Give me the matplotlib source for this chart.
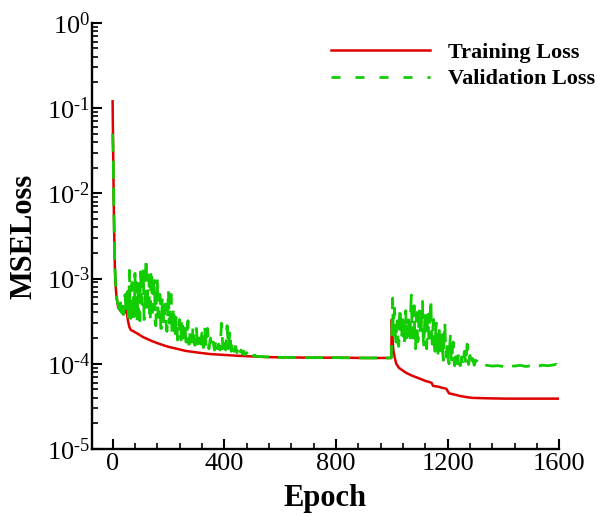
import matplotlib
matplotlib.use('Agg')
import matplotlib.pyplot as plt
import numpy as np
from matplotlib.ticker import LogLocator, MultipleLocator, FuncFormatter, NullFormatter
from matplotlib.lines import Line2D

plt.rcParams['font.family'] = ['Liberation Serif', 'DejaVu Serif']
plt.rcParams['mathtext.fontset'] = 'custom'
plt.rcParams['mathtext.rm'] = 'Liberation Serif'
plt.rcParams['lines.scale_dashes'] = False

# ---------------- data ----------------
train_epochs = [0, 2, 4, 6, 8, 10, 14, 20, 30, 40, 45, 50, 55, 60, 65, 75, 90, 110,
                140, 170, 200, 230, 260, 300, 350, 400, 450, 500, 550, 600, 700, 800,
                900, 998, 1000, 1002, 1005, 1010, 1016, 1025, 1040, 1052, 1075, 1100,
                1120, 1142, 1148, 1165, 1183, 1195, 1205, 1225, 1243, 1270, 1290, 1350,
                1410, 1500, 1600]
train_loss = [1.2e-1, 3.0e-2, 8.0e-3, 3.0e-3, 1.4e-3, 9.0e-4, 6.0e-4, 4.6e-4, 4.1e-4,
              3.8e-4, 4.3e-4, 4.2e-4, 3.2e-4, 2.7e-4, 2.5e-4, 2.4e-4, 2.25e-4, 2.05e-4,
              1.85e-4, 1.7e-4, 1.58e-4, 1.5e-4, 1.42e-4, 1.36e-4, 1.3e-4, 1.27e-4,
              1.24e-4, 1.22e-4, 1.2e-4, 1.19e-4, 1.18e-4, 1.18e-4, 1.17e-4, 1.17e-4,
              3.3e-4, 2.2e-4, 1.5e-4, 1.2e-4, 1.0e-4, 9.0e-5, 8.3e-5, 7.8e-5, 7.2e-5,
              6.7e-5, 6.3e-5, 6.0e-5, 5.5e-5, 5.4e-5, 5.2e-5, 5.1e-5, 4.5e-5, 4.35e-5,
              4.2e-5, 4.05e-5, 3.98e-5, 3.93e-5, 3.9e-5, 3.9e-5, 3.9e-5]

# validation loss, in units of 1e-4
val_epochs_a = [0, 2, 4, 6, 8, 10, 12]
val_loss_a = [500.0, 300.0, 80.0, 30.0, 15.0, 10.0, 7.5]

val_epochs_b1 = list(np.arange(15, 300.1, 2.5))          # 115 values
val_loss_b1 = [6.0, 5.2, 5.0, 4.4, 4.6, 5.8, 4.2, 4.0, 5.5, 3.8,
               3.9, 6.0, 6.5, 4.0, 4.3, 7.0, 5.0, 3.5, 12.5, 4.5,
               3.4, 8.0, 9.0, 3.2, 6.5, 3.6, 11.5, 4.5, 9.0, 3.0,
               8.0, 3.5, 10.0, 3.2, 12.0, 6.0, 5.0, 9.0, 13.0, 3.3,
               3.5, 8.0, 17.0, 4.0, 6.0, 11.0, 10.5, 3.2, 3.3, 12.5,
               12.0, 4.0, 4.5, 9.0, 9.5, 3.0, 2.8, 7.5, 10.0, 3.6,
               3.5, 6.5, 6.5, 2.6, 2.6, 5.5, 6.0, 3.0, 3.0, 5.0,
               5.0, 2.5, 2.4, 4.5, 7.3, 3.0, 3.0, 6.5, 6.5, 2.4,
               2.2, 4.5, 4.0, 2.0, 2.3, 3.5, 3.2, 1.9, 2.0, 3.0,
               3.3, 2.0, 1.9, 3.3, 3.3, 2.0, 2.2, 2.8, 2.6, 1.8,
               1.8, 2.6, 3.2, 1.7, 1.7, 2.4, 2.4, 1.8, 1.9, 2.6,
               2.7, 1.7, 1.65, 2.3, 2.6]
val_epochs_b2 = list(range(305, 525, 5))                 # 44 values
val_loss_b2 = [1.6, 2.0, 1.7, 2.3, 1.55, 2.7, 1.6, 2.6, 1.5, 2.0,
               1.55, 1.8, 1.45, 1.9, 1.5, 1.7, 1.45, 3.0, 1.5, 2.0,
               1.45, 2.8, 1.5, 2.4, 1.4, 1.8, 1.4, 1.6, 1.35, 1.55,
               1.32, 1.45, 1.3, 1.4, 1.28, 1.35, 1.26, 1.33, 1.25, 1.3,
               1.23, 1.26, 1.22, 1.22]
val_epochs_c = [560, 600, 700, 800, 900, 998, 1000, 1003]
val_loss_c = [1.2, 1.19, 1.18, 1.18, 1.17, 1.17, 2.0, 5.9]

val_epochs_d1 = list(np.arange(1005, 1250.1, 2.5))       # 99 values
val_loss_d1 = [2.5, 3.5, 4.5, 2.2, 1.8, 2.8, 3.2, 1.7, 1.6, 3.5,
               4.5, 2.5, 2.0, 3.0, 3.8, 1.9, 1.7, 3.5, 4.2, 2.0,
               2.2, 3.0, 3.5, 1.8, 1.8, 4.0, 6.4, 2.5, 2.0, 3.5,
               4.8, 2.0, 1.5, 3.2, 4.0, 1.8, 1.9, 3.8, 4.6, 2.4,
               2.2, 4.2, 5.4, 2.0, 1.6, 3.0, 4.0, 1.8, 1.5, 3.2,
               3.8, 2.0, 2.0, 4.0, 5.6, 2.2, 1.7, 2.8, 3.3, 1.6,
               1.4, 2.6, 3.0, 1.5, 1.2, 2.2, 2.6, 1.4, 1.3, 2.0,
               2.2, 1.3, 1.1, 2.0, 3.0, 1.6, 1.2, 1.5, 1.8, 1.1,
               1.0, 1.6, 2.2, 1.2, 1.05, 1.5, 1.8, 1.1, 0.95, 1.2,
               1.4, 1.05, 1.0, 1.2, 1.3, 1.0, 0.95, 1.1, 1.2]
val_epochs_d2 = list(range(1255, 1305, 5))               # 10 values
val_loss_d2 = [0.97, 1.4, 1.0, 1.7, 0.98, 1.25, 0.97, 1.15, 0.96, 1.1]
val_epochs_e = [1310, 1320, 1330, 1340, 1360, 1380, 1400, 1420, 1440, 1460, 1480,
                1500, 1520, 1540, 1560, 1580, 1590, 1600]
val_loss_e = [1.05, 0.97, 0.95, 0.96, 0.94, 0.95, 0.93, 0.95, 0.94, 0.96, 0.93,
              0.95, 0.94, 0.96, 0.95, 0.97, 0.99, 0.92]

xticks = [0, 400, 800, 1200, 1600]
yticks_exp = [-5, -4, -3, -2, -1, 0]

val_epochs = (val_epochs_a + val_epochs_b1 + val_epochs_b2 + val_epochs_c
              + val_epochs_d1 + val_epochs_d2 + val_epochs_e)
val_loss = np.array(val_loss_a + val_loss_b1 + val_loss_b2 + val_loss_c
                    + val_loss_d1 + val_loss_d2 + val_loss_e) * 1e-4

# ---------------- figure ----------------
fig = plt.figure(figsize=(5.98, 5.16), dpi=100)
ax = fig.add_axes([0.1533, 0.1298, 0.782, 0.826])

red = '#e00000'
green = '#10cc00'
px = 72.0 / 100.0  # points per pixel

ax.plot(train_epochs, train_loss, color=red, lw=1.8, zorder=2)
ax.plot(val_epochs, val_loss, color=green, lw=2.0, zorder=3,
        dashes=(18 * px, 9 * px))

ax.set_yscale('log')
ax.set_ylim(1e-5, 1e0)
ax.set_xlim(-75, 1600)

ax.set_xticks(xticks)
ax.xaxis.set_minor_locator(MultipleLocator(80))
ax.set_yticks([10.0 ** e for e in yticks_exp])
ax.yaxis.set_minor_locator(LogLocator(base=10, subs=np.arange(2, 10), numticks=20))
ax.yaxis.set_minor_formatter(NullFormatter())


def yfmt(v, pos):
    e = int(round(np.log10(v)))
    if e < 0:
        return r'$\mathregular{10^{\text{-%d}}}$' % (-e)
    return r'$\mathregular{10^{%d}}$' % e


ax.yaxis.set_major_formatter(FuncFormatter(yfmt))

for s in ['top', 'right']:
    ax.spines[s].set_visible(False)
for s in ['left', 'bottom']:
    ax.spines[s].set_linewidth(1.7)

ax.tick_params(which='major', direction='in', length=7.5, width=1.5, labelsize=19)
ax.tick_params(which='minor', direction='in', length=4.5, width=1.2)
ax.tick_params(axis='x', pad=3)
ax.tick_params(axis='y', pad=1)

ax.set_xlabel('Epoch', fontsize=22, fontweight='bold', labelpad=6)
ax.set_ylabel('MSELoss', fontsize=22, fontweight='bold', labelpad=6)

h1 = Line2D([], [], color=red, lw=1.8)
h2 = Line2D([], [], color=green, lw=2.0, dashes=(9 * px, 15 * px))
leg = fig.legend([h1, h2], ['Training Loss', 'Validation Loss'],
                 loc='upper left', bbox_to_anchor=(331 / 598, 1 - 42 / 516),
                 bbox_transform=fig.transFigure, frameon=False,
                 prop={'family': 'Liberation Serif', 'weight': 'bold', 'size': 16},
                 handlelength=4.45, handletextpad=0.8, borderpad=0,
                 borderaxespad=0, labelspacing=0.28)

fig.savefig('out.png', dpi=100)
